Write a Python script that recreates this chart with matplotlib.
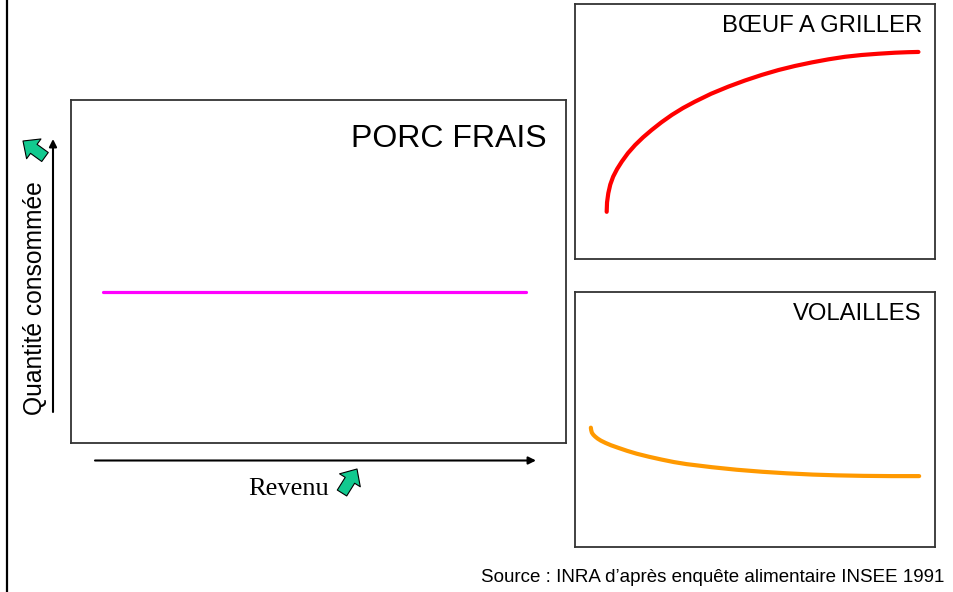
import matplotlib
matplotlib.use("Agg")
import matplotlib.pyplot as plt
from matplotlib.patches import FancyArrowPatch
from matplotlib.lines import Line2D

plt.rcParams['font.family'] = ['Liberation Sans', 'DejaVu Sans']

W, H = 954, 592

# curves, in axes fractions (x = revenu, y = quantité)
porc_x = [0.065, 0.919]
porc_y = [0.44, 0.44]

boeuf_x = [0.088, 0.089, 0.0925, 0.098, 0.106, 0.117, 0.130, 0.147, 0.167, 0.189, 0.213,
           0.24, 0.269, 0.30, 0.333, 0.378, 0.426, 0.472, 0.519, 0.565, 0.611, 0.658,
           0.704, 0.75, 0.796, 0.843, 0.889, 0.925, 0.954]
boeuf_y = [0.185, 0.222, 0.258, 0.292, 0.323, 0.353, 0.382, 0.415, 0.447, 0.477, 0.506,
           0.536, 0.565, 0.592, 0.617, 0.648, 0.676, 0.70, 0.722, 0.741, 0.757, 0.771,
           0.783, 0.793, 0.80, 0.805, 0.809, 0.811, 0.812]

volailles_x = [0.044, 0.045, 0.047, 0.051, 0.056, 0.063, 0.072, 0.085, 0.1, 0.12,
               0.145, 0.171, 0.205, 0.24, 0.275, 0.31, 0.38, 0.449, 0.52, 0.588,
               0.66, 0.727, 0.8, 0.88, 0.956]
volailles_y = [0.468, 0.458, 0.448, 0.44, 0.433, 0.425, 0.417, 0.408, 0.399, 0.389,
               0.377, 0.366, 0.354, 0.343, 0.333, 0.325, 0.313, 0.303, 0.295, 0.289,
               0.284, 0.281, 0.279, 0.278, 0.278]

fig = plt.figure(figsize=(W / 100, H / 100), dpi=100)


def box(x0, y0, x1, y1):
    # axes from pixel corners (top-left origin)
    ax = fig.add_axes([x0 / W, 1 - y1 / H, (x1 - x0) / W, (y1 - y0) / H])
    ax.set_xlim(0, 1)
    ax.set_ylim(0, 1)
    ax.set_xticks([])
    ax.set_yticks([])
    for s in ax.spines.values():
        s.set_color('#333333')
        s.set_linewidth(1.3)
    return ax


def px(x, y):
    return (x / W, 1 - y / H)


ax_porc = box(71, 100, 566, 443)
ax_porc.plot(porc_x, porc_y, color='#ff00ff', lw=2.3, solid_capstyle='round')
ax_porc.text(0.96, 0.886, 'PORC FRAIS', ha='right', va='center', fontsize=23)

ax_boeuf = box(575, 4, 935, 259)
ax_boeuf.plot(boeuf_x, boeuf_y, color='#ff0000', lw=3, solid_capstyle='round')
ax_boeuf.text(0.964, 0.915, 'BŒUF A GRILLER', ha='right', va='center', fontsize=17.2)

ax_vol = box(575, 292, 935, 547)
ax_vol.plot(volailles_x, volailles_y, color='#ff9900', lw=3, solid_capstyle='round')
ax_vol.text(0.961, 0.915, 'VOLAILLES', ha='right', va='center', fontsize=17.2)

# left border line
fig.add_artist(Line2D([7.5 / W, 7.5 / W], [0, 1], color='black', lw=1.6,
                      transform=fig.transFigure))

# axis arrows
for a, b in [((53, 412), (53, 139)), ((95, 460.5), (536, 460.5))]:
    fig.add_artist(FancyArrowPatch(px(*a), px(*b), transform=fig.transFigure,
                                   arrowstyle='-|>', mutation_scale=11,
                                   color='black', lw=1.5, shrinkA=0, shrinkB=0))

# green "increase" arrows
for a, b in [((45, 157), (23, 141)), ((342, 493), (357, 469))]:
    fig.add_artist(FancyArrowPatch(px(*a), px(*b), transform=fig.transFigure,
                                   arrowstyle='simple,head_length=0.6,head_width=1.1,tail_width=0.5',
                                   mutation_scale=16, fc='#12c98f', ec='black', lw=0.8,
                                   shrinkA=0, shrinkB=0))

fig.text(35 / W, 1 - 298 / H, 'Quantité consommée', rotation=90, ha='center',
         va='center', fontsize=17.7)
fig.text(289 / W, 1 - 489 / H, 'Revenu', ha='center', va='center', fontsize=19,
         family=['Liberation Serif', 'DejaVu Serif'])
fig.text(944 / W, 1 - 577 / H, 'Source : INRA d\u2019après enquête alimentaire INSEE 1991',
         ha='right', va='center', fontsize=13.5)

fig.savefig('out.png', dpi=100)
